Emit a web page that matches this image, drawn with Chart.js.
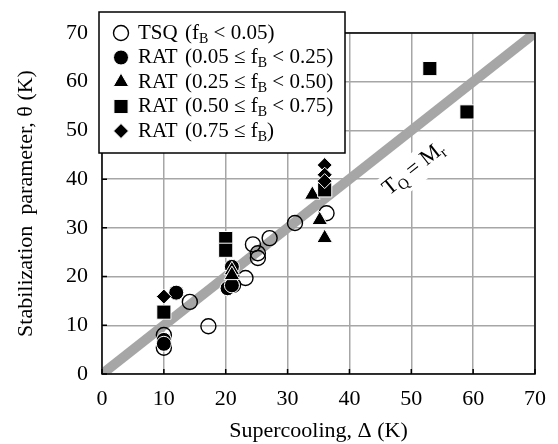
<!DOCTYPE html>
<html>
<head>
<meta charset="utf-8">
<script src="https://cdn.jsdelivr.net/npm/chart.js@4.4.1/dist/chart.umd.min.js"></script>
<style>
  html, body { margin: 0; padding: 0; background: #fff; }
</style>
</head>
<body>
<canvas id="myChart" width="558" height="444"></canvas>
<script>
// values
const tsqX = [10, 10, 14.2, 17.2, 21.2, 23.2, 24.4, 25.2, 25.2, 27.1, 31.2, 36.3];
const tsqY = [8, 5.4, 14.8, 9.8, 18.3, 19.7, 26.6, 24.8, 23.8, 27.9, 31, 33];
const rat1X = [10, 10, 12, 20.3, 21, 21];
const rat1Y = [7, 6.2, 16.7, 17.6, 18.2, 22];
const rat2X = [21, 21, 34, 35.2, 36];
const rat2Y = [21.3, 20.3, 36.8, 31.6, 27.9];
const rat3X = [10, 20, 20, 36, 53, 59];
const rat3Y = [12.7, 27.8, 25.4, 37.8, 62.7, 53.8];
const rat4X = [10, 36, 36, 36];
const rat4Y = [15.9, 42.9, 40.9, 39.6];
const lineX = [0, 70];
const lineY = [0, 70];
const tickValues = [0, 10, 20, 30, 40, 50, 60, 70];

const serif = '"Liberation Serif", "Times New Roman", serif';

function pts(xs, ys) {
  return xs.map((x, i) => ({ x: x, y: ys[i] }));
}

const legendRows = [
  { style: 'circle', open: true, r: 7.5, head: 'TSQ', parts: [['(f', 0], ['B', 1], [' < 0.05)', 0]] },
  { style: 'circle', r: 7.5, head: 'RAT', parts: [['(0.05 \u2264 f', 0], ['B', 1], [' < 0.25)', 0]] },
  { style: 'triangle', r: 9, head: 'RAT', parts: [['(0.25 \u2264 f', 0], ['B', 1], [' < 0.50)', 0]] },
  { style: 'rect', r: 10, head: 'RAT', parts: [['(0.50 \u2264 f', 0], ['B', 1], [' < 0.75)', 0]] },
  { style: 'rectRot', r: 7.5, head: 'RAT', parts: [['(0.75 \u2264 f', 0], ['B', 1], [')', 0]] },
];

function drawParts(ctx, x, y, parts, size) {
  ctx.textBaseline = 'middle';
  ctx.textAlign = 'left';
  parts.forEach(p => {
    if (p[1]) {
      ctx.font = Math.round(size * 0.68) + 'px ' + serif;
      ctx.fillText(p[0], x, y + size * 0.28);
    } else {
      ctx.font = size + 'px ' + serif;
      ctx.fillText(p[0], x, y);
    }
    x += ctx.measureText(p[0]).width;
  });
  return x;
}

function partsWidth(ctx, parts, size) {
  let w = 0;
  parts.forEach(p => {
    ctx.font = (p[1] ? Math.round(size * 0.68) : size) + 'px ' + serif;
    w += ctx.measureText(p[0]).width;
  });
  return w;
}

const extras = {
  id: 'extras',
  beforeDatasetsDraw(chart) {
    const { ctx, scales: { x, y } } = chart;
    // white box with the T_Q = M_r label along the diagonal
    const ang = Math.atan2(y.getPixelForValue(70) - y.getPixelForValue(0),
                           x.getPixelForValue(70) - x.getPixelForValue(0));
    const cx = x.getPixelForValue(50.4), cy = y.getPixelForValue(42.1);
    const lab = [['T', 0], ['Q', 1], [' = M', 0], ['r', 1]];
    const w = partsWidth(ctx, lab, 22);
    ctx.save();
    ctx.translate(cx, cy);
    ctx.rotate(ang);
    ctx.fillStyle = '#fff';
    ctx.fillRect(-w / 2 - 6, -14, w + 12, 30);
    ctx.fillStyle = '#000';
    drawParts(ctx, -w / 2, 0, lab, 22);
    ctx.restore();
  },
  afterDraw(chart) {
    const { ctx, chartArea: a, scales: { x, y } } = chart;
    ctx.save();
    // frame and inward ticks
    ctx.strokeStyle = '#000';
    ctx.lineWidth = 1.5;
    ctx.strokeRect(a.left, a.top, a.right - a.left, a.bottom - a.top);
    ctx.beginPath();
    tickValues.forEach(v => {
      const px = x.getPixelForValue(v);
      ctx.moveTo(px, a.bottom); ctx.lineTo(px, a.bottom - 5);
      const py = y.getPixelForValue(v);
      ctx.moveTo(a.left, py); ctx.lineTo(a.left + 5, py);
    });
    ctx.stroke();

    // legend box
    const bx = 99, by = 12, bw = 246, bh = 141;
    ctx.fillStyle = '#fff';
    ctx.fillRect(bx, by, bw, bh);
    ctx.strokeStyle = '#000';
    ctx.lineWidth = 1.5;
    ctx.strokeRect(bx, by, bw, bh);
    legendRows.forEach((row, i) => {
      const ry = 33 + i * 24.5;
      ctx.fillStyle = row.open ? 'rgba(0,0,0,0)' : '#000';
      ctx.strokeStyle = row.open ? '#000' : '#fff';
      ctx.lineWidth = row.open ? 1.4 : 1;
      Chart.helpers.drawPoint(ctx, { pointStyle: row.style, radius: row.r, rotation: 0, borderWidth: ctx.lineWidth }, 121, ry);
      ctx.fillStyle = '#000';
      drawParts(ctx, 138, ry, [[row.head, 0]], 21);
      drawParts(ctx, 185, ry, row.parts, 21);
    });
    ctx.restore();
  }
};

const filled = (label, xs, ys, style, r, order) => ({
  label: label,
  data: pts(xs, ys),
  pointStyle: style,
  pointRadius: r,
  backgroundColor: '#000',
  borderColor: '#fff',
  borderWidth: 1,
  showLine: false,
  order: order,
});

new Chart(document.getElementById('myChart'), {
  type: 'scatter',
  data: {
    datasets: [
      {
        label: 'TSQ',
        data: pts(tsqX, tsqY),
        pointStyle: 'circle',
        pointRadius: 7.5,
        backgroundColor: 'rgba(0,0,0,0)',
        borderColor: '#000',
        borderWidth: 1.4,
        showLine: false,
        order: 5,
      },
      filled('RAT1', rat1X, rat1Y, 'circle', 7.5, 4),
      filled('RAT2', rat2X, rat2Y, 'triangle', 9, 3),
      filled('RAT3', rat3X, rat3Y, 'rect', 10, 2),
      filled('RAT4', rat4X, rat4Y, 'rectRot', 7.5, 1),
      {
        label: 'TQ = Mr',
        data: pts(lineX, lineY),
        showLine: true,
        borderColor: '#a6a6a6',
        borderWidth: 10,
        pointRadius: 0,
        clip: 0,
        order: 6,
      },
    ]
  },
  options: {
    responsive: false,
    animation: false,
    layout: { padding: { top: 33, right: 22, left: 0, bottom: 0 } },
    plugins: { legend: { display: false }, tooltip: { enabled: false } },
    scales: {
      x: {
        type: 'linear', min: 0, max: 70,
        afterFit: s => { s.height = 70; },
        afterBuildTicks: s => { s.ticks = tickValues.map(v => ({ value: v })); },
        grid: { color: '#a6a6a6', lineWidth: 1.5, drawTicks: false },
        border: { display: false },
        ticks: { padding: 12, color: '#000', font: { family: serif, size: 22 } },
        title: { display: true, text: 'Supercooling, \u0394 (K)', color: '#000',
                 font: { family: serif, size: 22 }, padding: { top: 0, bottom: 0 } },
      },
      y: {
        type: 'linear', min: 0, max: 70,
        afterFit: s => { s.width = 102; },
        afterBuildTicks: s => { s.ticks = tickValues.map(v => ({ value: v })); },
        grid: { color: '#a6a6a6', lineWidth: 1.5, drawTicks: false },
        border: { display: false },
        ticks: { padding: 14, color: '#000', font: { family: serif, size: 22 } },
        title: { display: true, text: 'Stabilization  parameter, \u03b8 (K)', color: '#000',
                 font: { family: serif, size: 22 }, padding: { top: 13, bottom: 0 } },
      }
    }
  },
  plugins: [extras]
});
</script>
</body>
</html>
